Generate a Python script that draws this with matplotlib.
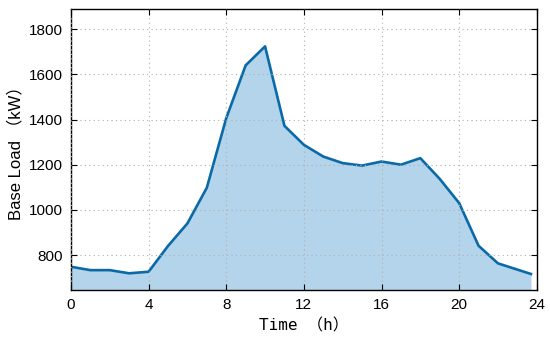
import numpy as np
import matplotlib
matplotlib.use("Agg")
import matplotlib.pyplot as plt

# ---------------- Daten ----------------
stunden = [0, 1, 2, 3, 4, 5, 6, 7, 8, 9, 10, 11, 12, 13, 14, 15, 16, 17, 18, 19, 20, 21, 22, 23.7]
last_kw = [748, 733, 733, 719, 726, 840, 940, 1098, 1406, 1640, 1724, 1372, 1288, 1236,
           1207, 1196, 1214, 1200, 1229, 1137, 1030, 841, 763, 716]
x_ticks = [0, 4, 8, 12, 16, 20, 24]
y_ticks = [800, 1000, 1200, 1400, 1600, 1800]

linie = "#0a6aa8"
flaeche = "#b3d4ea"

# ---------------- Plot ----------------
fig = plt.figure(figsize=(5.5, 3.42), dpi=100)
ax = fig.add_axes([0.129, 0.152, 0.847, 0.822])

ymin, ymax = 645, 1890
ax.fill_between(stunden, last_kw, ymin, color=flaeche, linewidth=0)
ax.plot(stunden, last_kw, color=linie, linewidth=1.9)

ax.set_xlim(0, 24)
ax.set_ylim(ymin, ymax)
ax.set_xticks(x_ticks)
ax.set_yticks(y_ticks)
ax.tick_params(direction="in", top=True, right=True, length=4, width=0.8,
               labelsize=11, pad=6)
for lbl in ax.get_xticklabels() + ax.get_yticklabels():
    lbl.set_fontfamily("Liberation Sans")

ax.grid(True, linestyle=(0, (1, 3)), color="#b0b0b0", linewidth=0.8)
ax.set_axisbelow(False)
for s in ax.spines.values():
    s.set_linewidth(1.0)

ax.set_xlabel("Time （h）", family=["DejaVu Sans Mono", "Noto Sans CJK SC"],
              fontsize=11.5, labelpad=4)
ax.set_ylabel("Base Load （kW）", family=["Liberation Sans", "Noto Sans CJK SC"],
              fontsize=12, labelpad=4)

fig.savefig("out.png", dpi=100)
plt.close(fig)
